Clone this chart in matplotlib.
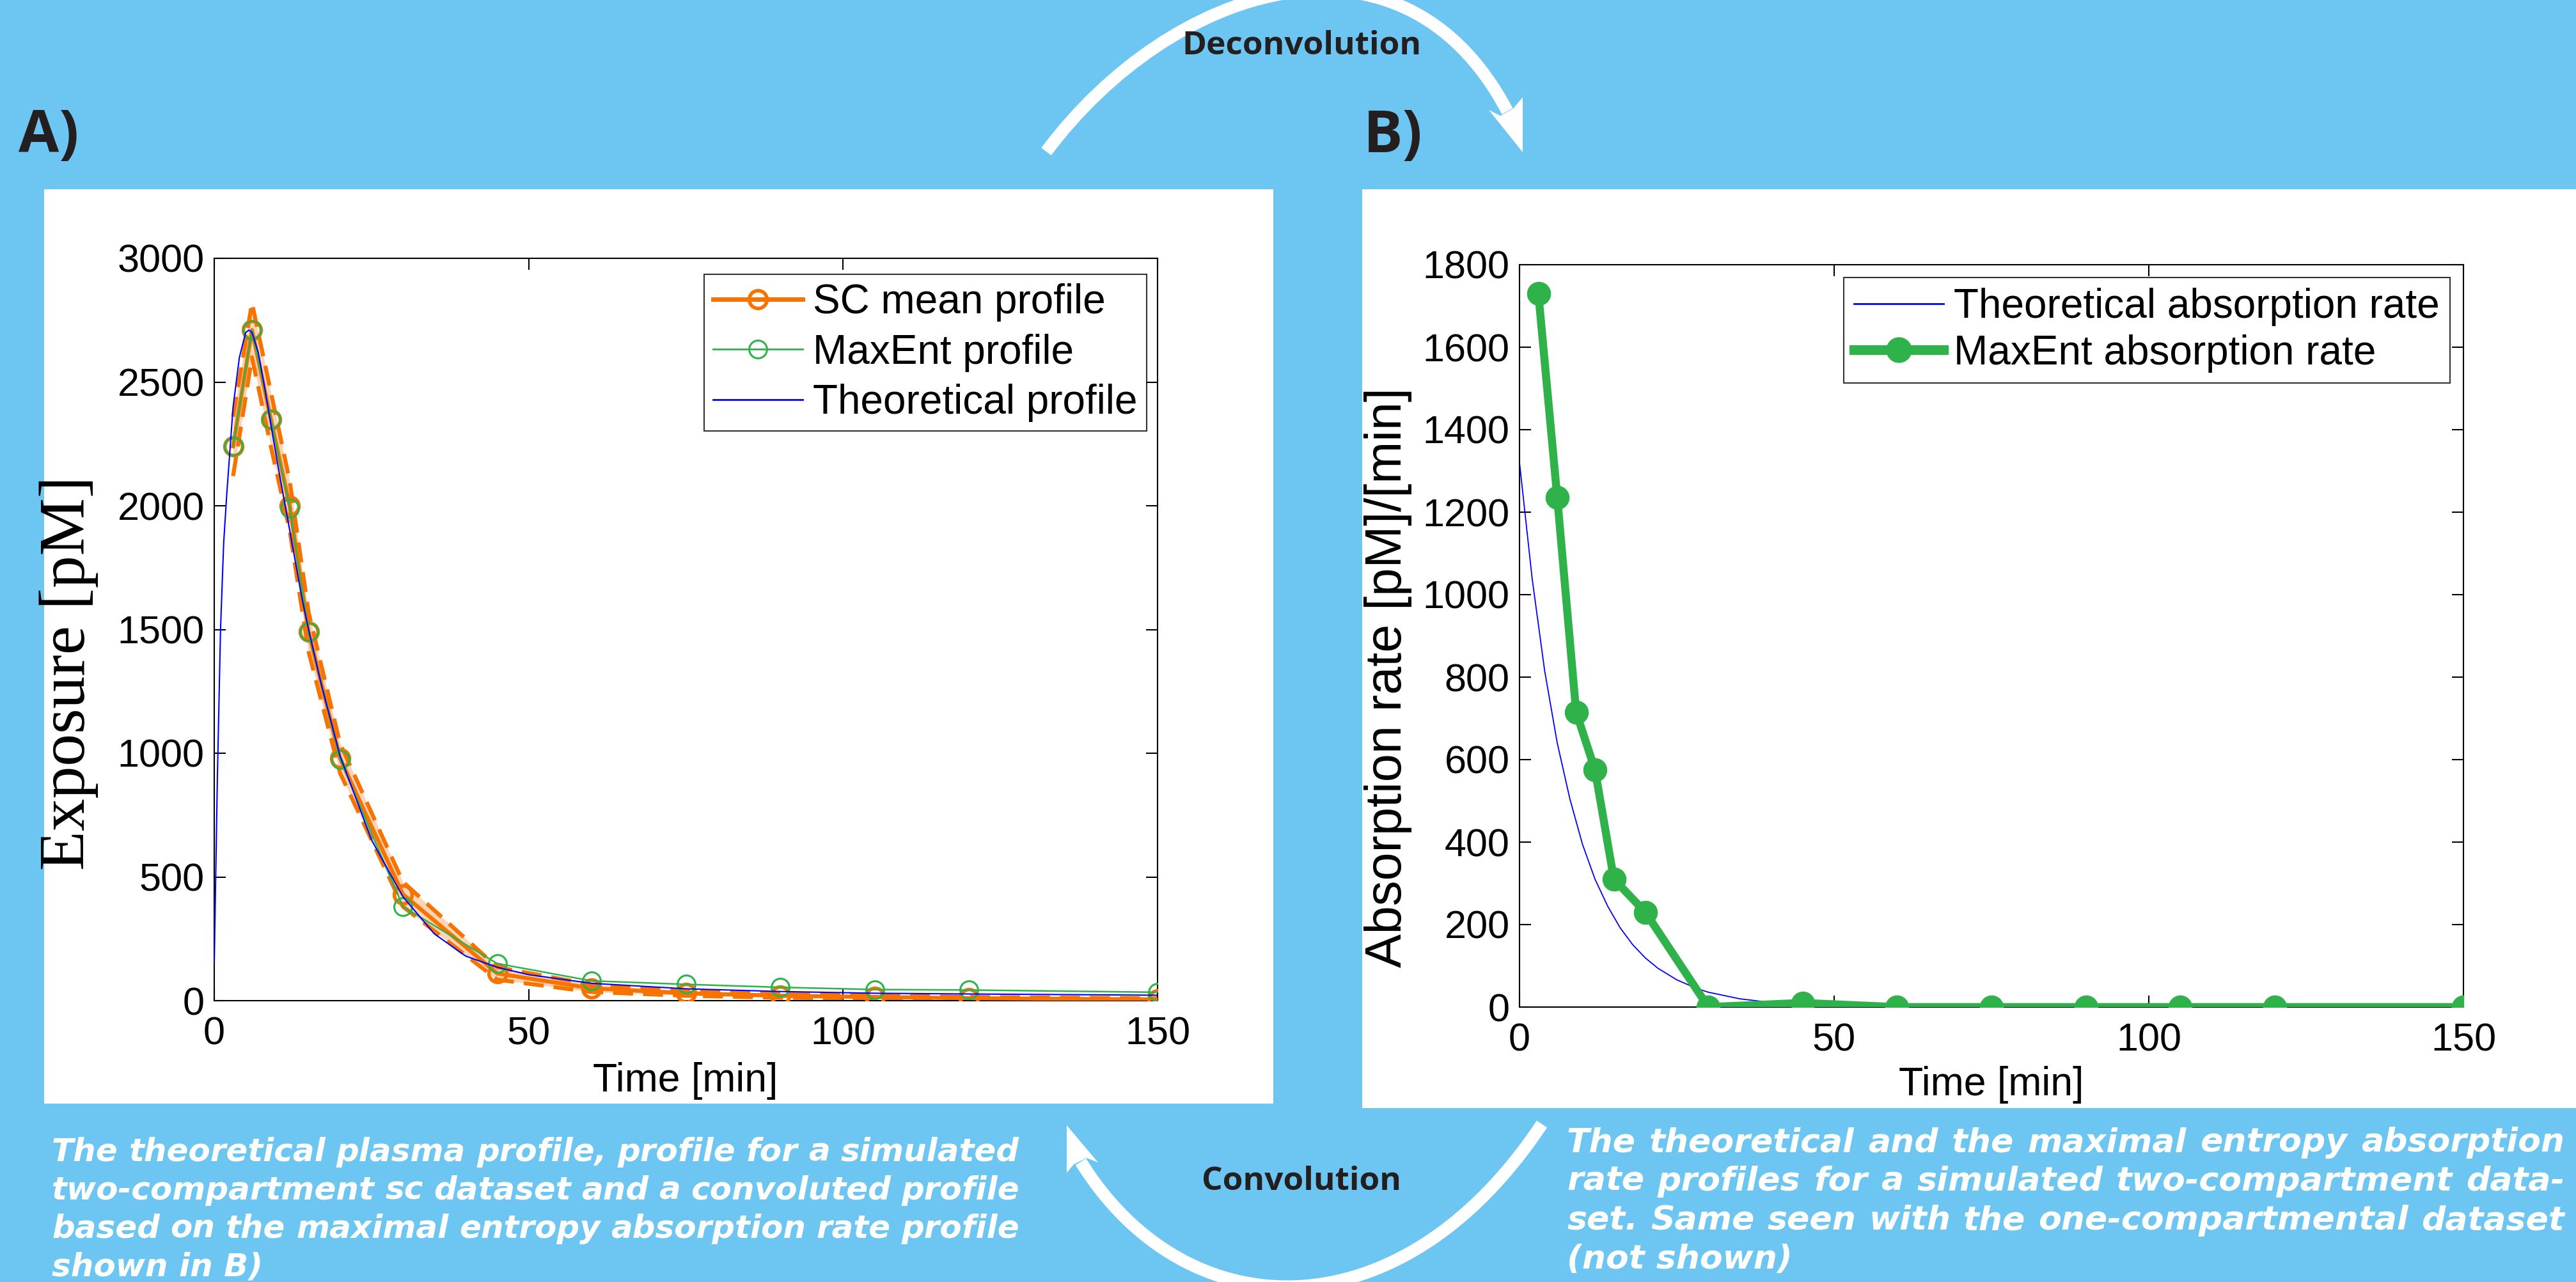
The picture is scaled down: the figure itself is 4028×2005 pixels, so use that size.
import numpy as np
import matplotlib
matplotlib.use('Agg')
import matplotlib.pyplot as plt
from matplotlib.path import Path
from matplotlib.patches import PathPatch, Rectangle, Polygon
from matplotlib.lines import Line2D

# ---------------- Data ----------------
t_samples = [3, 6, 9, 12, 15, 20, 30, 45, 60, 75, 90, 105, 120, 150]
sc_mean = [2240, 2710, 2350, 2000, 1490, 980, 430, 110, 50, 30, 20, 15, 10, 5]
sc_sd = [120, 110, 110, 100, 80, 60, 50, 25, 15, 10, 8, 6, 5, 4]
maxent_profile = [2240, 2710, 2350, 1990, 1490, 975, 380, 150, 80, 66, 54, 45, 43, 34]

t_theory = [0, 0.5, 1, 1.5, 2, 3, 4, 5, 5.5, 6, 7, 8, 9, 10, 12, 14, 15, 17, 20,
            25, 30, 35, 40, 45, 50, 60, 75, 90, 105, 120, 150]
theory_profile = [150, 900, 1500, 1850, 2050, 2400, 2600, 2700, 2710, 2700, 2620,
                  2480, 2330, 2180, 1900, 1620, 1500, 1280, 990, 650, 420, 270,
                  180, 135, 105, 70, 48, 37, 30, 27, 22]

t_rate_theory = [0, 2, 4, 6, 8, 10, 12, 14, 16, 18, 20, 22, 25, 28, 30, 35, 40,
                 45, 50, 60, 80, 100, 150]
rate_theory = [1320, 1040, 815, 640, 505, 395, 310, 245, 192, 151, 119, 94, 66,
               46, 36, 20, 11, 6, 4, 1, 0, 0, 0]
maxent_rate = [1730, 1235, 715, 575, 310, 230, 0, 10, 0, 0, 0, 0, 0, 0]

xticks = [0, 50, 100, 150]
yticks_a = [0, 500, 1000, 1500, 2000, 2500, 3000]
yticks_b = [0, 200, 400, 600, 800, 1000, 1200, 1400, 1600, 1800]

legend_a = ['SC mean profile', 'MaxEnt profile', 'Theoretical profile']
legend_b = ['Theoretical absorption rate', 'MaxEnt absorption rate']

caption_a = ['The theoretical plasma profile, profile for a simulated',
             'two-compartment sc dataset and a convoluted profile',
             'based on the maximal entropy absorption rate profile',
             'shown in B)']
caption_b = ['The theoretical and the maximal entropy absorption',
             'rate profiles for a simulated two-compartment data-',
             'set. Same seen with the one-compartmental dataset',
             '(not shown)']

# ---------------- Style ----------------
W, H = 4028, 2005
BLUE_BG = '#6DC6F1'
ORANGE = '#F77300'
PEACH = '#FCD5B8'
GREEN = '#2FB24A'
DARK = '#231F20'

plt.rcParams['font.family'] = ['Liberation Sans', 'DejaVu Sans']

fig = plt.figure(figsize=(W / 100, H / 100), dpi=100)
fig.patch.set_facecolor(BLUE_BG)

bg = fig.add_axes([0, 0, 1, 1], zorder=0)
bg.set_xlim(0, W)
bg.set_ylim(H, 0)
bg.axis('off')

# white panels
bg.add_patch(Rectangle((69, 296), 1991 - 69, 1726 - 296, facecolor='white', edgecolor='none'))
bg.add_patch(Rectangle((2130, 296), W - 2130, 1733 - 296, facecolor='white', edgecolor='none'))

# arcs
top_arc = Path([(1636, 237), (1831, -24), (2192, -140), (2357, 174)],
               [Path.MOVETO, Path.CURVE4, Path.CURVE4, Path.CURVE4])
bg.add_patch(PathPatch(top_arc, facecolor='none', edgecolor='white', lw=14, capstyle='butt'))
bg.add_patch(Polygon([(2381, 152), (2381, 238), (2328, 172), (2346, 181), (2366, 170)],
                     closed=True, facecolor='white', edgecolor='none'))

bot_arc = Path([(2411, 1758), (2191, 2090), (1855, 2083), (1690, 1817)],
               [Path.MOVETO, Path.CURVE4, Path.CURVE4, Path.CURVE4])
bg.add_patch(PathPatch(bot_arc, facecolor='none', edgecolor='white', lw=14, capstyle='butt'))
bg.add_patch(Polygon([(1668, 1760), (1717, 1818), (1699, 1811), (1679, 1821), (1668, 1834)],
                     closed=True, facecolor='white', edgecolor='none'))

bg.text(2035, 72, 'Deconvolution', fontfamily='Open Sans', fontweight='bold', fontsize=37,
        color=DARK, ha='center', va='center')
bg.text(2035, 1848, 'Convolution', fontfamily='Open Sans', fontweight='bold', fontsize=37,
        color=DARK, ha='center', va='center')
bg.text(29, 214, 'A)', fontfamily='Open Sans', fontweight='bold', fontsize=66,
        color=DARK, ha='left', va='center')
bg.text(2132, 214, 'B)', fontfamily='Open Sans', fontweight='bold', fontsize=66,
        color=DARK, ha='left', va='center')

# justified captions
renderer = fig.canvas.get_renderer()


def justified_line(x0, x1, y, line, justify, size):
    font = dict(fontfamily='DejaVu Sans', fontweight='bold', fontstyle='italic',
                fontsize=size, color='white', va='center', ha='left')
    words = line.split(' ')
    if not justify or len(words) < 2:
        bg.text(x0, y, line, **font)
        return
    widths = []
    for w in words:
        tt = bg.text(0, 0, w, **font)
        widths.append(tt.get_window_extent(renderer).width)
        tt.remove()
    gap = (x1 - x0 - sum(widths)) / (len(words) - 1)
    x = x0
    for w, wd in zip(words, widths):
        bg.text(x, y, w, **font)
        x += wd + gap


for i, line in enumerate(caption_a):
    justified_line(81, 1594, 1802 + 60 * i, line, i < len(caption_a) - 1, 36)
for i, line in enumerate(caption_b):
    justified_line(2450, 4010, 1787 + 61 * i, line, i < len(caption_b) - 1, 37.5)

# axis labels as figure text
bg.text(108, 1053, 'Exposure [pM]', fontfamily='Liberation Serif', fontsize=73,
        rotation=90, ha='center', va='center', color='black')
bg.text(1072, 1690, 'Time [min]', fontsize=45, ha='center', va='center', color='black')
bg.text(2171, 1060, 'Absorption rate [pM]/[min]', fontsize=57, rotation=90,
        ha='center', va='center', color='black')
bg.text(3114, 1696, 'Time [min]', fontsize=45, ha='center', va='center', color='black')


def px_axes(left, right, top, bottom):
    return [left / W, 1 - bottom / H, (right - left) / W, (bottom - top) / H]


def style_axes(ax, size):
    ax.tick_params(direction='in', top=True, right=True, length=13, width=1.5,
                   labelsize=size, colors='black')
    ax.tick_params(axis='y', pad=11)
    ax.tick_params(axis='x', pad=18)
    for s in ax.spines.values():
        s.set_linewidth(1.5)
        s.set_color('black')


# ---------------- Panel A ----------------
axA = fig.add_axes(px_axes(335, 1810, 404, 1565), zorder=2)
t = np.array(t_samples)
m = np.array(sc_mean)
sd = np.array(sc_sd)
axA.fill_between(t, m - sd, m + sd, color=PEACH, lw=0, zorder=1)
axA.plot(t, m + sd, color=ORANGE, lw=4.5, ls=(0, (5, 2.5)), zorder=2)
axA.plot(t, m - sd, color=ORANGE, lw=4.5, ls=(0, (5, 2.5)), zorder=2)
axA.plot(t, m, color=ORANGE, lw=4.5, marker='o', ms=20, mfc='none', mew=4, zorder=3)
axA.plot(t_samples, maxent_profile, color=GREEN, lw=1.8, marker='o', ms=20, mfc='none',
         mew=2.2, zorder=4)
axA.plot(t_theory, theory_profile, color='#0000FF', lw=1.5, zorder=5)
axA.set_xlim(0, 150)
axA.set_ylim(0, 3000)
axA.set_xticks(xticks)
axA.set_yticks(yticks_a)
style_axes(axA, 44)

handles_a = [Line2D([], [], color=ORANGE, lw=5, marker='o', ms=20, mfc='none', mew=4),
             Line2D([], [], color=GREEN, lw=2, marker='o', ms=20, mfc='none', mew=2.2),
             Line2D([], [], color='#0000FF', lw=2)]
legA = axA.legend(handles_a, legend_a, loc='upper right',
                  bbox_to_anchor=((1793 - 335) / 1475, (1565 - 429) / 1161),
                  borderaxespad=0, fontsize=46, frameon=True, fancybox=False,
                  edgecolor='black', handlelength=2.2, handletextpad=0.25,
                  labelspacing=0.29, borderpad=0.22)
legA.get_frame().set_linewidth(1.5)

# ---------------- Panel B ----------------
axB = fig.add_axes(px_axes(2376, 3852, 414, 1575), zorder=2)
axB.plot(t_rate_theory, rate_theory, color='#0000FF', lw=1.3, zorder=2)
axB.plot(t_samples, maxent_rate, color=GREEN, lw=9, marker='o', ms=26, zorder=3)
axB.set_xlim(0, 150)
axB.set_ylim(0, 1800)
axB.set_xticks(xticks)
axB.set_yticks(yticks_b)
style_axes(axB, 44)

handles_b = [Line2D([], [], color='#0000FF', lw=2),
             Line2D([], [], color=GREEN, lw=11, marker='o', ms=28)]
legB = axB.legend(handles_b, legend_b, loc='upper right',
                  bbox_to_anchor=((3831 - 2376) / 1476, (1575 - 434) / 1161),
                  borderaxespad=0, fontsize=46, frameon=True, fancybox=False,
                  edgecolor='black', handlelength=2.2, handletextpad=0.25,
                  labelspacing=0.2, borderpad=0.25)
legB.get_frame().set_linewidth(1.5)

fig.savefig('out.png', dpi=100, facecolor=fig.get_facecolor())
